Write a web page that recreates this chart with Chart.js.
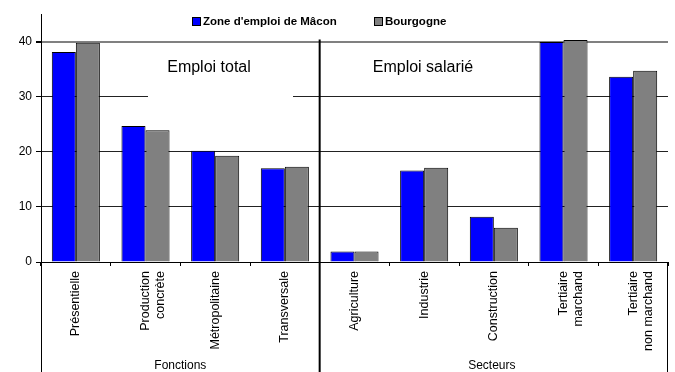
<!DOCTYPE html>
<html lang="fr">
<head>
    <meta charset="UTF-8">
    <title>Emploi - Zone de Mâcon</title>
    <style>
        body {
            margin: 0;
            background: #fff;
        }
        canvas {
            display: block;
        }
    </style>
    <script src="https://cdn.jsdelivr.net/npm/chart.js"></script>
</head>
<body>
    <canvas id="chart" width="675" height="372"></canvas>

    <script>
        const categories = [
            'Présentielle',
            ['Production', 'concrète'],
            'Métropolitaine',
            'Transversale',
            'Agriculture',
            'Industrie',
            'Construction',
            ['Tertiaire', 'marchand'],
            ['Tertiaire', 'non marchand']
        ];
        const macon = [38.1, 24.7, 20.2, 17.0, 1.9, 16.6, 8.2, 39.9, 33.6];
        const bourgogne = [39.8, 23.9, 19.3, 17.3, 1.9, 17.1, 6.2, 40.3, 34.7];
        const seriesNames = ["Zone d'emploi de Mâcon", 'Bourgogne'];
        const yTicks = [0, 10, 20, 30, 40];
        const groupNames = ['Fonctions', 'Secteurs'];
        const panelTitles = ['Emploi total', 'Emploi salarié'];

        // lines, group captions, panel titles and the legend
        const decorations = {
            id: 'decorations',
            beforeDatasetsDraw(chart) {
                const ctx = chart.ctx;
                const y = chart.scales.y;
                // white box behind the "Emploi total" title
                ctx.save();
                ctx.fillStyle = '#fff';
                ctx.fillRect(148, y.getPixelForValue(40) + 6, 145, y.getPixelForValue(30) - y.getPixelForValue(40) + 2);
                ctx.restore();
            },
            afterDraw(chart) {
                const ctx = chart.ctx;
                const x = chart.scales.x;
                const y = chart.scales.y;
                const area = chart.chartArea;
                const H = chart.height;
                const sep = (x.getPixelForValue(3) + x.getPixelForValue(4)) / 2;

                ctx.save();
                ctx.strokeStyle = '#000';
                ctx.lineWidth = 1;
                ctx.beginPath();
                ctx.moveTo(area.left + 0.5, area.bottom);
                ctx.lineTo(area.left + 0.5, H);
                ctx.moveTo(area.right - 0.5, area.bottom);
                ctx.lineTo(area.right - 0.5, H);
                ctx.stroke();

                ctx.lineWidth = 2;
                ctx.beginPath();
                ctx.moveTo(sep, y.getPixelForValue(40) - 2);
                ctx.lineTo(sep, H);
                ctx.stroke();

                ctx.fillStyle = '#000';
                ctx.textAlign = 'center';
                ctx.textBaseline = 'middle';
                ctx.font = '12px Arial, "Liberation Sans"';
                ctx.fillText(groupNames[0], (area.left + sep) / 2, H - 6);
                ctx.fillText(groupNames[1], (sep + area.right) / 2 - 2, H - 6);

                ctx.font = '16px Arial, "Liberation Sans"';
                ctx.fillText(panelTitles[0], 209, 68);
                ctx.fillText(panelTitles[1], 423, 68);

                // legend
                ctx.font = 'bold 11.5px Arial, "Liberation Sans"';
                ctx.textAlign = 'left';
                const colors = ['#0000ff', '#808080'];
                const starts = [192, 374];
                seriesNames.forEach((name, i) => {
                    ctx.fillStyle = colors[i];
                    ctx.fillRect(starts[i], 17, 8, 8);
                    ctx.lineWidth = 1;
                    ctx.strokeStyle = '#000';
                    ctx.strokeRect(starts[i] + 0.5, 17.5, 8, 8);
                    ctx.fillStyle = '#000';
                    ctx.fillText(name, starts[i] + 11, 21.5);
                });
                ctx.restore();
            }
        };

        new Chart(document.getElementById('chart'), {
            type: 'bar',
            data: {
                labels: categories,
                datasets: [{
                    label: seriesNames[0],
                    data: macon,
                    backgroundColor: '#0000ff',
                    borderColor: '#000',
                    borderWidth: 1,
                    categoryPercentage: 0.69,
                    barPercentage: 1
                }, {
                    label: seriesNames[1],
                    data: bourgogne,
                    backgroundColor: '#808080',
                    borderColor: '#000',
                    borderWidth: 1,
                    categoryPercentage: 0.69,
                    barPercentage: 1
                }]
            },
            options: {
                responsive: false,
                animation: false,
                layout: {
                    padding: { top: 14, right: 7, left: 0, bottom: 0 }
                },
                plugins: {
                    legend: { display: false },
                    tooltip: { enabled: false }
                },
                scales: {
                    x: {
                        afterFit(scale) { scale.height = 110; },
                        grid: {
                            offset: true,
                            drawOnChartArea: false,
                            tickLength: 4,
                            color: '#000'
                        },
                        border: { color: '#000', width: 1 },
                        ticks: {
                            autoSkip: false,
                            minRotation: 90,
                            maxRotation: 90,
                            padding: 5,
                            color: '#000',
                            font: { family: 'Arial, "Liberation Sans"', size: 12.5 }
                        }
                    },
                    y: {
                        min: 0,
                        max: 45,
                        afterFit(scale) { scale.width = 41; },
                        afterBuildTicks(scale) {
                            scale.ticks = yTicks.map(v => ({ value: v }));
                        },
                        grid: {
                            color: c => c.tick && c.tick.value === 40 ? '#808080' : '#222',
                            lineWidth: c => c.tick && c.tick.value === 40 ? 2 : 1,
                            tickLength: 5,
                            tickColor: '#000'
                        },
                        border: { color: '#000', width: 1 },
                        ticks: {
                            padding: 4,
                            color: '#000',
                            font: { family: 'Arial, "Liberation Sans"', size: 12 }
                        }
                    }
                }
            },
            plugins: [decorations]
        });
    </script>
</body>
</html>
